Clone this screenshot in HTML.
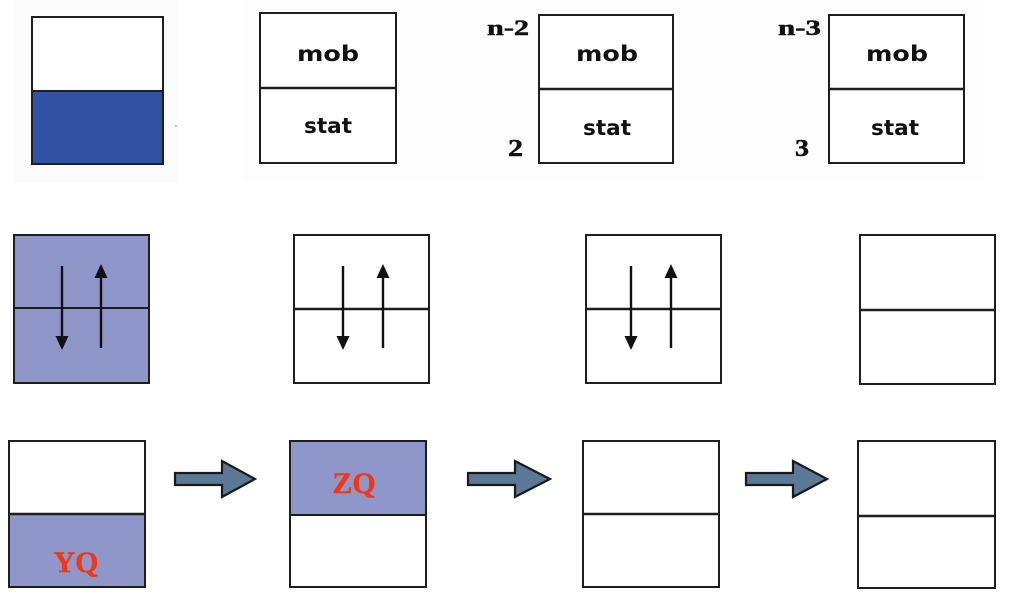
<!DOCTYPE html>
<html>
<head>
<meta charset="utf-8">
<style>
  html,body{margin:0;padding:0;background:#fff;}
  svg{display:block;}
</style>
</head>
<body>
<svg width="1024" height="601" viewBox="0 0 1024 601" xmlns="http://www.w3.org/2000/svg">
  <rect x="0" y="0" width="1024" height="601" fill="#ffffff"/>
  <!-- faint backgrounds -->
  <rect x="13" y="0" width="164" height="183" fill="#fbfbfb"/>
  <rect x="245" y="0" width="740" height="180" fill="#fdfdfd"/>

  <g stroke="#1e1e1e" stroke-width="2" fill="none">
    <!-- Row 1 -->
    <rect x="32" y="17" width="131" height="147" fill="#fff"/>
    <rect x="32" y="91" width="131" height="73" fill="#3253a4" stroke="none"/>
    <rect x="32" y="17" width="131" height="147"/>
    <line x1="32" y1="91" x2="163" y2="91"/>

    <rect x="260" y="13" width="136" height="150" fill="#fff"/>
    <line x1="260" y1="88" x2="396" y2="88" stroke-width="2.5"/>

    <rect x="539" y="15" width="134" height="148" fill="#fff"/>
    <line x1="539" y1="89" x2="673" y2="89" stroke-width="2.5"/>

    <rect x="829" y="15" width="135" height="148" fill="#fff"/>
    <line x1="829" y1="89" x2="964" y2="89" stroke-width="2.5"/>

    <!-- Row 2 -->
    <rect x="14" y="235" width="135" height="148" fill="#8f96ca"/>
    <line x1="14" y1="308" x2="149" y2="308"/>

    <rect x="294" y="235" width="135" height="148" fill="#fff"/>
    <line x1="294" y1="309" x2="429" y2="309" stroke-width="2.5"/>

    <rect x="586" y="235" width="135" height="148" fill="#fff"/>
    <line x1="586" y1="309" x2="721" y2="309" stroke-width="2.5"/>

    <rect x="860" y="235" width="135" height="149" fill="#fff"/>
    <line x1="860" y1="310" x2="995" y2="310" stroke-width="2.5"/>

    <!-- Row 3 -->
    <rect x="9" y="514" width="136" height="73" fill="#8f96ca" stroke="none"/>
    <rect x="9" y="441" width="136" height="146"/>
    <line x1="9" y1="514" x2="145" y2="514" stroke-width="2.5"/>

    <rect x="290" y="441" width="136" height="74" fill="#8f96ca" stroke="none"/>
    <rect x="290" y="441" width="136" height="146"/>
    <line x1="290" y1="515" x2="426" y2="515"/>

    <rect x="583" y="441" width="136" height="146" fill="#fff"/>
    <line x1="583" y1="514" x2="719" y2="514" stroke-width="2.5"/>

    <rect x="858" y="441" width="137" height="147" fill="#fff"/>
    <line x1="858" y1="516" x2="995" y2="516" stroke-width="2.5"/>
  </g>

  <!-- spin arrows row 2 -->
  <g stroke="#111" stroke-width="2.4" fill="#111">
    <line x1="62" y1="266" x2="62" y2="340"/>
    <polygon points="55.5,336 68.5,336 62,350" stroke="none"/>
    <line x1="101" y1="348" x2="101" y2="274"/>
    <polygon points="94.5,278 107.5,278 101,264" stroke="none"/>

    <line x1="343" y1="266" x2="343" y2="340"/>
    <polygon points="336.5,336 349.5,336 343,350" stroke="none"/>
    <line x1="383" y1="348" x2="383" y2="274"/>
    <polygon points="376.5,278 389.5,278 383,264" stroke="none"/>

    <line x1="631" y1="266" x2="631" y2="340"/>
    <polygon points="624.5,336 637.5,336 631,350" stroke="none"/>
    <line x1="671" y1="348" x2="671" y2="274"/>
    <polygon points="664.5,278 677.5,278 671,264" stroke="none"/>
  </g>

  <!-- block arrows row 3 -->
  <g fill="#5b7896" stroke="#1a1a1a" stroke-width="2.2" stroke-linejoin="miter">
    <polygon points="175,473 222,473 222,461 255,479 222,497 222,485 175,485"/>
    <polygon points="468,473 515,473 515,461 550,479 515,497 515,485 468,485"/>
    <polygon points="746,473 793,473 793,461 827,479 793,497 793,485 746,485"/>
  </g>

  <!-- mob/stat labels -->
  <g font-family="'DejaVu Sans','Liberation Sans',sans-serif" font-weight="bold" font-size="21" fill="#111" text-anchor="middle">
    <text x="328" y="61" textLength="62" lengthAdjust="spacingAndGlyphs">mob</text>
    <text x="328" y="133" textLength="48" lengthAdjust="spacingAndGlyphs">stat</text>
    <text x="607" y="61" textLength="62" lengthAdjust="spacingAndGlyphs">mob</text>
    <text x="607" y="135" textLength="48" lengthAdjust="spacingAndGlyphs">stat</text>
    <text x="897" y="61" textLength="62" lengthAdjust="spacingAndGlyphs">mob</text>
    <text x="895" y="135" textLength="48" lengthAdjust="spacingAndGlyphs">stat</text>
  </g>

  <!-- index labels -->
  <g font-family="'Liberation Serif',serif" font-weight="bold" fill="#111" stroke="#111" stroke-width="0.5">
    <text x="487" y="35" font-size="22" textLength="42" lengthAdjust="spacingAndGlyphs">n-2</text>
    <text x="508" y="156" font-size="24" textLength="15" lengthAdjust="spacingAndGlyphs">2</text>
    <text x="778" y="35" font-size="22" textLength="43" lengthAdjust="spacingAndGlyphs">n-3</text>
    <text x="795" y="156" font-size="24" textLength="14" lengthAdjust="spacingAndGlyphs">3</text>
  </g>

  <!-- YQ / ZQ -->
  <g font-family="'Liberation Serif',serif" font-weight="bold" font-size="30" fill="#f5360f" stroke="#f5360f" stroke-width="0.4" text-anchor="middle">
    <text x="76" y="572">YQ</text>
    <text x="354" y="493">ZQ</text>
  </g>

  <circle cx="176" cy="126" r="0.8" fill="#888"/>
</svg>
</body>
</html>
